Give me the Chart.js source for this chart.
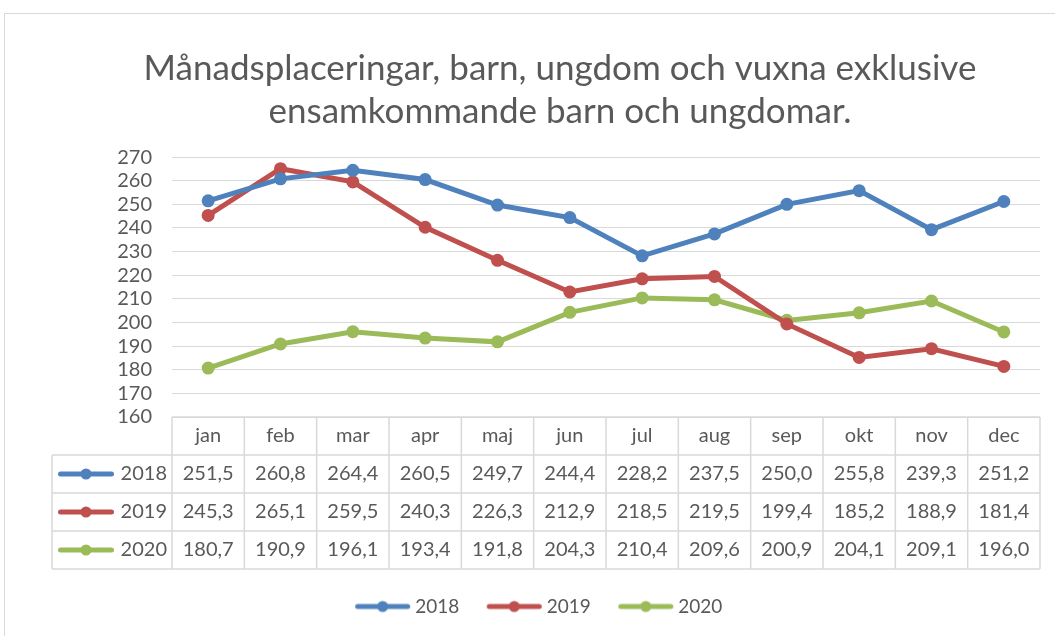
<!DOCTYPE html>
<html><head><meta charset="utf-8">
<script src="https://cdn.jsdelivr.net/npm/chart.js@4"></script>
<style>html,body{margin:0;padding:0;background:#fff;} #wrap{width:1055px;height:636px;position:relative;}</style>
</head><body><div id="wrap"><canvas id="c" width="1055" height="636"></canvas></div>
<script>
const months = ['jan','feb','mar','apr','maj','jun','jul','aug','sep','okt','nov','dec'];
const series2018 = [251.5,260.8,264.4,260.5,249.7,244.4,228.2,237.5,250.0,255.8,239.3,251.2];
const series2019 = [245.3,265.1,259.5,240.3,226.3,212.9,218.5,219.5,199.4,185.2,188.9,181.4];
const series2020 = [180.7,190.9,196.1,193.4,191.8,204.3,210.4,209.6,200.9,204.1,209.1,196.0];
const seriesNames = ['2018','2019','2020'];
const seriesColors = ['#4F81BD','#C0504D','#9BBB59'];
const titleLines = ['Månadsplaceringar, barn, ungdom och vuxna exklusive','ensamkommande barn och ungdomar.'];
const yMin = 160, yMax = 270, yStep = 10;

const allSeries = [series2018, series2019, series2020];
const FONT = 'Lato';
const TXT = '#595959';
const GRID = '#d9d9d9';
const fmt = v => v.toFixed(1).replace('.', ',');

// legend key image: line with centred dot
function makeKey(color, w, x0, x1){
  const c = document.createElement('canvas');
  c.width = w; c.height = 14;
  const g = c.getContext('2d');
  g.strokeStyle = color; g.lineWidth = 5; g.lineCap = 'round';
  g.beginPath(); g.moveTo(x0 + 2.5, 7); g.lineTo(x1 - 2.5, 7); g.stroke();
  g.fillStyle = color; g.beginPath(); g.arc((x0 + x1) / 2, 7, 5.5, 0, Math.PI*2); g.fill();
  return c;
}
const legendKeys = seriesColors.map(c => makeKey(c, 61, 5, 60));
const tableKeys = seriesColors.map(c => makeKey(c, 56, 0, 56));

const borderPlugin = {
  id:'border',
  beforeDraw(chart){
    const ctx = chart.ctx;
    ctx.save();
    ctx.strokeStyle = GRID; ctx.lineWidth = 1;
    ctx.strokeRect(4.5, 13.5, 1200, 1000);
    ctx.restore();
  },
  afterLayout(chart){
    // shift legend box so it is centred under the data table
    const lg = chart.legend;
    if (lg) { lg.left -= 21; lg.right -= 21; }
  }
};

const tablePlugin = {
  id:'table',
  afterDraw(chart){
    const ctx = chart.ctx, xs = chart.scales.x;
    const n = months.length;
    const colW = (xs.right - xs.left) / n;
    const top = chart.chartArea.bottom;
    const rowH = (xs.bottom - xs.top) / 4;
    const keyLeft = 52;
    ctx.save();
    ctx.strokeStyle = GRID; ctx.lineWidth = 1.5;
    ctx.beginPath();
    ctx.moveTo(xs.left, top); ctx.lineTo(xs.right, top);
    for (let r = 1; r <= 4; r++) { ctx.moveTo(keyLeft, top + r*rowH); ctx.lineTo(xs.right, top + r*rowH); }
    ctx.moveTo(keyLeft, top + rowH); ctx.lineTo(keyLeft, top + 4*rowH);
    for (let i = 0; i <= n; i++) {
      const bx = i < n ? xs.getPixelForValue(i) - colW/2 : xs.getPixelForValue(n-1) + colW/2;
      ctx.moveTo(bx, top); ctx.lineTo(bx, top + 4*rowH);
    }
    ctx.stroke();
    ctx.fillStyle = TXT;
    ctx.font = '20px ' + FONT;
    ctx.textAlign = 'center'; ctx.textBaseline = 'middle';
    months.forEach((m, i) => ctx.fillText(m, xs.getPixelForValue(i), top + rowH/2));
    allSeries.forEach((s, r) => {
      const cy = top + (r + 1.5) * rowH;
      s.forEach((v, i) => ctx.fillText(fmt(v), xs.getPixelForValue(i), cy));
      ctx.drawImage(tableKeys[r], 58, cy - 7);
      ctx.textAlign = 'right';
      ctx.fillText(seriesNames[r], xs.left - 5, cy);
      ctx.textAlign = 'center';
    });
    ctx.restore();
  }
};

new Chart(document.getElementById('c'), {
  type: 'line',
  data: {
    labels: months,
    datasets: allSeries.map((s, i) => ({
      label: seriesNames[i],
      data: s,
      borderColor: seriesColors[i],
      backgroundColor: seriesColors[i],
      pointBackgroundColor: seriesColors[i],
      pointBorderColor: seriesColors[i],
      borderWidth: 5,
      pointRadius: 6.5,
      pointBorderWidth: 0,
      tension: 0,
      fill: false
    }))
  },
  options: {
    responsive: false,
    animation: false,
    layout: { padding: { left: 80, right: 15, top: 0, bottom: 10 } },
    plugins: {
      tooltip: { enabled: false },
      title: {
        display: true,
        text: titleLines,
        color: TXT,
        font: { family: FONT, size: 35, weight: 'normal', lineHeight: 1.23 },
        padding: { top: 47, bottom: 24 }
      },
      legend: {
        position: 'bottom',
        labels: {
          usePointStyle: true,
          pointStyleWidth: 50,
          padding: 28,
          color: TXT,
          font: { family: FONT, size: 19 },
          generateLabels: chart => chart.data.datasets.map((d, i) => ({
            text: d.label, pointStyle: legendKeys[i], fillStyle: d.borderColor,
            strokeStyle: d.borderColor, lineWidth: 0, datasetIndex: i, hidden: false, fontColor: TXT
          }))
        }
      }
    },
    scales: {
      x: {
        offset: true,
        grid: { display: false },
        border: { display: false },
        ticks: { display: false },
        afterFit: s => { s.height = 152; }
      },
      y: {
        min: yMin, max: yMax,
        ticks: { stepSize: yStep, autoSkip: false, color: TXT, font: { family: FONT, size: 20, lineHeight: 1 }, padding: 20 },
        grid: { color: GRID, lineWidth: 1, drawTicks: false },
        border: { display: false },
        afterFit: s => { s.width = 92; }
      }
    }
  },
  plugins: [borderPlugin, tablePlugin]
});
</script>
</body></html>
